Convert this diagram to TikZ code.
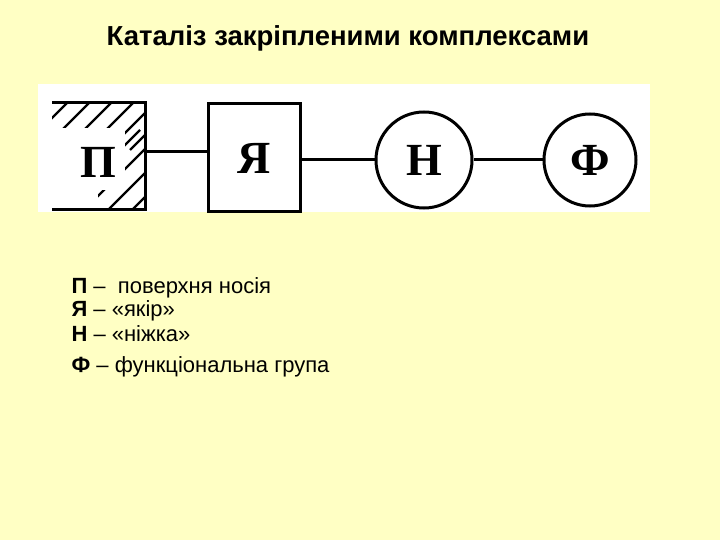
\documentclass[tikz,border=0pt]{standalone}
\usepackage{fontspec}
\setmainfont{Liberation Sans}
\newfontfamily\serifb{Liberation Serif}
\begin{document}
\begin{tikzpicture}[x=1pt,y=-1pt,
  ln/.style={line width=3pt},
  lab/.style={font=\serifb\bfseries\fontsize{46}{46}\selectfont},
  leg/.style={anchor=west,font=\fontsize{22}{24}\selectfont}]
\definecolor{bg}{HTML}{FFFFC4}
\fill[bg] (0,0) rectangle (720,540);
\useasboundingbox (0,0) rectangle (720,540);
\fill[white] (38,84) rectangle (650,212);
\node[font=\bfseries\fontsize{27.5}{30}\selectfont] (title) at (348,38) {Каталіз закріпленими комплексами};
% surface
\begin{scope}
\clip (52,103) rectangle (145,210);
\foreach \i in {0,...,8} \draw[line width=2.4pt] (20+\i*22,150) -- (80+\i*22,90);
\foreach \i in {0,...,5} \draw[line width=2.4pt] (40+\i*24,230) -- (140+\i*24,130);
\fill[white] (52,128) rectangle (72,210);
\fill[white] (72,128) rectangle (125,190);
\fill[white] (72,190) rectangle (98,210);
\end{scope}
\coordinate (p1) at (52,103); \coordinate (p2) at (145,103);
\coordinate (p3) at (145,210); \coordinate (p4) at (52,210);
\draw[ln] (p1) -- (p2) -- (p3) -- (p4);
\node[lab] (P) at (98,162) {П};
\coordinate (pe) at (145,152);
\node[draw,ln,minimum width=92pt,minimum height=108pt,lab] (Ya) at (254,158) {Я};
\node[draw,ln,circle,minimum size=96pt,lab,inner sep=0pt] (N) at (424,160) {Н};
\node[draw,ln,circle,minimum size=92pt,lab,inner sep=0pt] (F) at (590,160) {Ф};
\draw[ln] (pe) -- (pe -| Ya.west);
\draw[ln] (Ya.east |- N) -- (N.west);
\draw[ln] (N.east) -- (F.west);
\node[leg] (l1) at (68,288) {\textbf{П} –~ поверхня носія};
\node[leg] (l2) at (68,311) {\textbf{Я} – «якір»};
\node[leg] (l3) at (68,334) {\textbf{Н} – «ніжка»};
\node[leg] (l4) at (68,367) {\textbf{Ф} – функціональна група};
\end{tikzpicture}
\end{document}
